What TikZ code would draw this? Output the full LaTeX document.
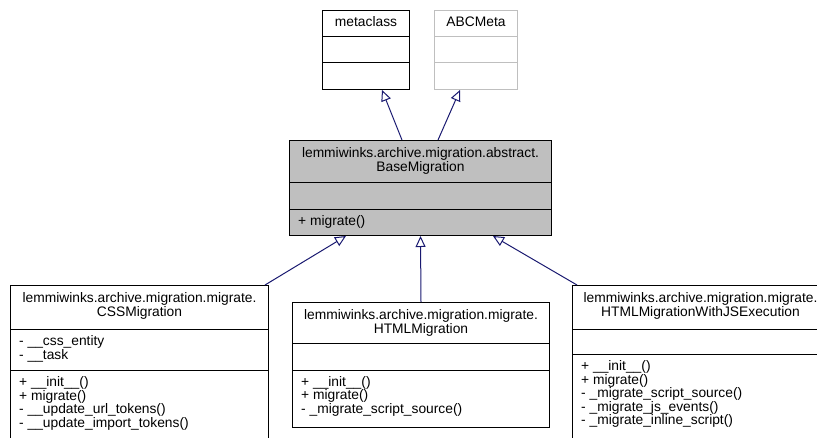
\documentclass[tikz,border=0pt]{standalone}
\usepackage{fontspec}
\setmainfont{Liberation Sans}
\usetikzlibrary{arrows.meta,calc}
\definecolor{edgeblue}{HTML}{191970}
\definecolor{lgray}{HTML}{BFBFBF}
\begin{document}
\begin{tikzpicture}[x=1pt,y=-1pt,
  cls/.style={draw=black, line width=1pt, inner sep=0pt, anchor=north west, fill=white},
  sepl/.style={draw=black, line width=1pt},
  txt/.style={inner sep=0pt, font=\fontsize{13.8}{13.8}\selectfont, text height=10pt, text depth=2.8pt},
  ltxt/.style={txt, anchor=west},
  inh/.style={draw=edgeblue, line width=1pt, -{Triangle[open, length=11pt, width=10pt]}}]
\useasboundingbox (0,0) rectangle (817,437);
\clip (0,0) rectangle (817,437);

% metaclass
\node[cls, minimum width=87pt, minimum height=79pt] (meta) at (322,10) {};
\draw[sepl] ($(meta.north west)+(0,26)$) -- ($(meta.north east)+(0,26)$);
\draw[sepl] ($(meta.north west)+(0,52)$) -- ($(meta.north east)+(0,52)$);
\node[txt] (metaT) at ($(meta.north)+(0,13)$) {metaclass};

% ABCMeta
\node[cls, draw=lgray, minimum width=83pt, minimum height=79pt] (abc) at (434,10) {};
\draw[sepl, draw=lgray] ($(abc.north west)+(0,26)$) -- ($(abc.north east)+(0,26)$);
\draw[sepl, draw=lgray] ($(abc.north west)+(0,52)$) -- ($(abc.north east)+(0,52)$);
\node[txt] (abcT) at ($(abc.north)+(0,13)$) {ABCMeta};

% BaseMigration
\node[cls, fill=lgray, minimum width=262pt, minimum height=95pt] (base) at (289,140) {};
\draw[sepl] ($(base.north west)+(0,42)$) -- ($(base.north east)+(0,42)$);
\draw[sepl] ($(base.north west)+(0,69)$) -- ($(base.north east)+(0,69)$);
\node[txt] (baseT1) at ($(base.north)+(0,13.5)$) {lemmiwinks.archive.migration.abstract.};
\node[txt] (baseT2) at ($(base.north)+(0,27.5)$) {BaseMigration};
\node[ltxt] (baseM1) at ($(base.north west)+(9,82)$) {+ migrate()};

% CSSMigration
\node[cls, minimum width=258pt, minimum height=170pt] (css) at (10,285) {};
\draw[sepl] ($(css.north west)+(0,44)$) -- ($(css.north east)+(0,44)$);
\draw[sepl] ($(css.north west)+(0,85)$) -- ($(css.north east)+(0,85)$);
\node[txt] (cssT1) at ($(css.north)+(0,14)$) {lemmiwinks.archive.migration.migrate.};
\node[txt] (cssT2) at ($(css.north)+(0,28)$) {CSSMigration};
\node[ltxt] (cssA1) at ($(css.north west)+(9,57)$) {- \_\_css\_entity};
\node[ltxt] (cssA2) at ($(css.north west)+(9,71)$) {- \_\_task};
\node[ltxt] (cssM1) at ($(css.north west)+(9,98)$) {+ \_\_init\_\_()};
\node[ltxt] (cssM2) at ($(css.north west)+(9,111.5)$) {+ migrate()};
\node[ltxt] (cssM3) at ($(css.north west)+(9,125)$) {- \_\_update\_url\_tokens()};
\node[ltxt] (cssM4) at ($(css.north west)+(9,138.5)$) {- \_\_update\_import\_tokens()};

% HTMLMigration
\node[cls, minimum width=257pt, minimum height=125pt] (html) at (292,302) {};
\draw[sepl] ($(html.north west)+(0,41)$) -- ($(html.north east)+(0,41)$);
\draw[sepl] ($(html.north west)+(0,68)$) -- ($(html.north east)+(0,68)$);
\node[txt] (htmlT1) at ($(html.north)+(0,14)$) {lemmiwinks.archive.migration.migrate.};
\node[txt] (htmlT2) at ($(html.north)+(0,28)$) {HTMLMigration};
\node[ltxt] (htmlM1) at ($(html.north west)+(9,80.5)$) {+ \_\_init\_\_()};
\node[ltxt] (htmlM2) at ($(html.north west)+(9,94)$) {+ migrate()};
\node[ltxt] (htmlM3) at ($(html.north west)+(9,107.5)$) {- \_migrate\_script\_source()};

% HTMLMigrationWithJSExecution
\node[cls, minimum width=256pt, minimum height=170pt] (js) at (572,285) {};
\draw[sepl] ($(js.north west)+(0,44)$) -- ($(js.north east)+(0,44)$);
\draw[sepl] ($(js.north west)+(0,69)$) -- ($(js.north east)+(0,69)$);
\node[txt] (jsT1) at ($(js.north)+(0,14)$) {lemmiwinks.archive.migration.migrate.};
\node[txt] (jsT2) at ($(js.north)+(0,28)$) {HTMLMigrationWithJSExecution};
\node[ltxt] (jsM1) at ($(js.north west)+(9,82)$) {+ \_\_init\_\_()};
\node[ltxt] (jsM2) at ($(js.north west)+(9,95.5)$) {+ migrate()};
\node[ltxt] (jsM3) at ($(js.north west)+(9,109)$) {- \_migrate\_script\_source()};
\node[ltxt] (jsM4) at ($(js.north west)+(9,122.5)$) {- \_migrate\_js\_events()};
\node[ltxt] (jsM5) at ($(js.north west)+(9,136)$) {- \_migrate\_inline\_script()};

% inheritance
\coordinate (b1) at ($(base.north west)+(113,0)$);
\coordinate (b2) at ($(base.north west)+(149,0)$);
\coordinate (m1) at ($(meta.south west)+(60,0)$);
\coordinate (a1) at ($(abc.south west)+(26,0)$);
\draw[inh] (b1) -- (m1);
\draw[inh] (b2) -- (a1);

\coordinate (c1) at ($(css.north east)+(-4,0)$);
\coordinate (bl) at ($(base.south west)+(57,0)$);
\coordinate (br) at ($(base.south west)+(204,0)$);
\coordinate (j1) at ($(js.north west)+(5,0)$);
\draw[inh] (c1) -- (bl);
\draw[inh] (html.north) -- (base.south);
\draw[inh] (j1) -- (br);
\end{tikzpicture}
\end{document}
